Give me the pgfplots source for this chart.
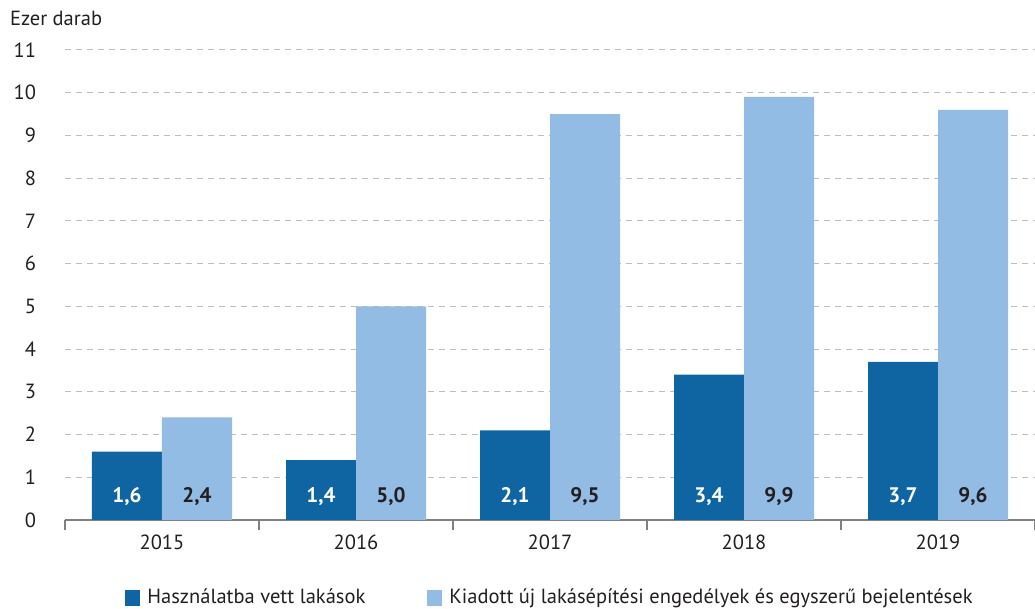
\documentclass[border=0pt]{standalone}
\usepackage{pgfplots}
\pgfplotsset{compat=1.18}
\usepackage{fontspec}
\setmainfont{PT Sans}

\definecolor{darkbar}{HTML}{0E65A1}
\definecolor{lightbar}{HTML}{93BCE5}
\definecolor{gridc}{HTML}{BDBDBD}
\definecolor{axisc}{HTML}{808080}
\definecolor{txt}{HTML}{231F20}

\begin{document}
\fontsize{20.5}{24}\selectfont
\begin{tikzpicture}
\useasboundingbox (-65pt,-89pt) rectangle (970pt,520pt);
\begin{axis}[
    at={(0,0)}, anchor=south west,
    scale only axis,
    width=970pt, height=470pt,
    ybar=0pt, bar width=70pt,
    xmin=-0.5, xmax=4.5,
    ymin=0, ymax=11,
    xtick={0,...,4},
    xticklabels={2015,2016,2017,2018,2019},
    minor xtick={-0.5,0.5,...,4.5},
    ytick={0,...,11},
    axis x line*=bottom,
    axis y line*=left,
    y axis line style={draw=none},
    x axis line style={draw=axisc, line width=2pt, -},
    major tick length=0pt,
    minor tick length=10pt,
    tick align=outside,
    minor tick style={draw=axisc, line width=2pt},
    ymajorgrids,
    grid style={gridc, line width=1pt, dash pattern=on 6pt off 5pt},
    tick label style={font=\fontsize{20.5}{24}\selectfont, text=txt},
    yticklabel style={anchor=east, xshift=-22pt},
    xticklabel style={yshift=-8pt},
    /pgf/number format/assume math mode=true,
    visualization depends on=y \as \rawy,
    nodes near coords={\pgfmathprintnumber[fixed, fixed zerofill, precision=1, use comma]{\pgfplotspointmeta}},
    nodes near coords style={anchor=center, yshift={23pt-\rawy*42.7273pt}, font=\fontsize{21}{24}\selectfont\bfseries},
    legend columns=2,
    legend style={at={(0.5,0)}, anchor=center, yshift=-78pt, draw=none, fill=none,
        font=\fontsize{20.5}{24}\selectfont, text=txt,
        /tikz/every odd column/.append style={column sep=5pt},
        /tikz/every even column/.append style={column sep=60pt}},
    legend image code/.code={\fill[#1] (0pt,-7.5pt) rectangle (15pt,7.5pt);},
    clip=false,
]
\addplot[fill=darkbar, draw=none, every node near coord/.append style={text=white}] coordinates {
    (0,1.6) (1,1.4) (2,2.1) (3,3.4) (4,3.7)
};
\addlegendentry{Használatba vett lakások}
\addplot[fill=lightbar, draw=none, every node near coord/.append style={text=txt}] coordinates {
    (0,2.4) (1,5.0) (2,9.5) (3,9.9) (4,9.6)
};
\addlegendentry{Kiadott új lakásépítési engedélyek és egyszerű bejelentések}
\node[anchor=west, text=txt, font=\fontsize{20.5}{24}\selectfont] at ([xshift=-62pt, yshift=32pt]rel axis cs:0,1) {Ezer darab};
\end{axis}
\end{tikzpicture}
\end{document}
